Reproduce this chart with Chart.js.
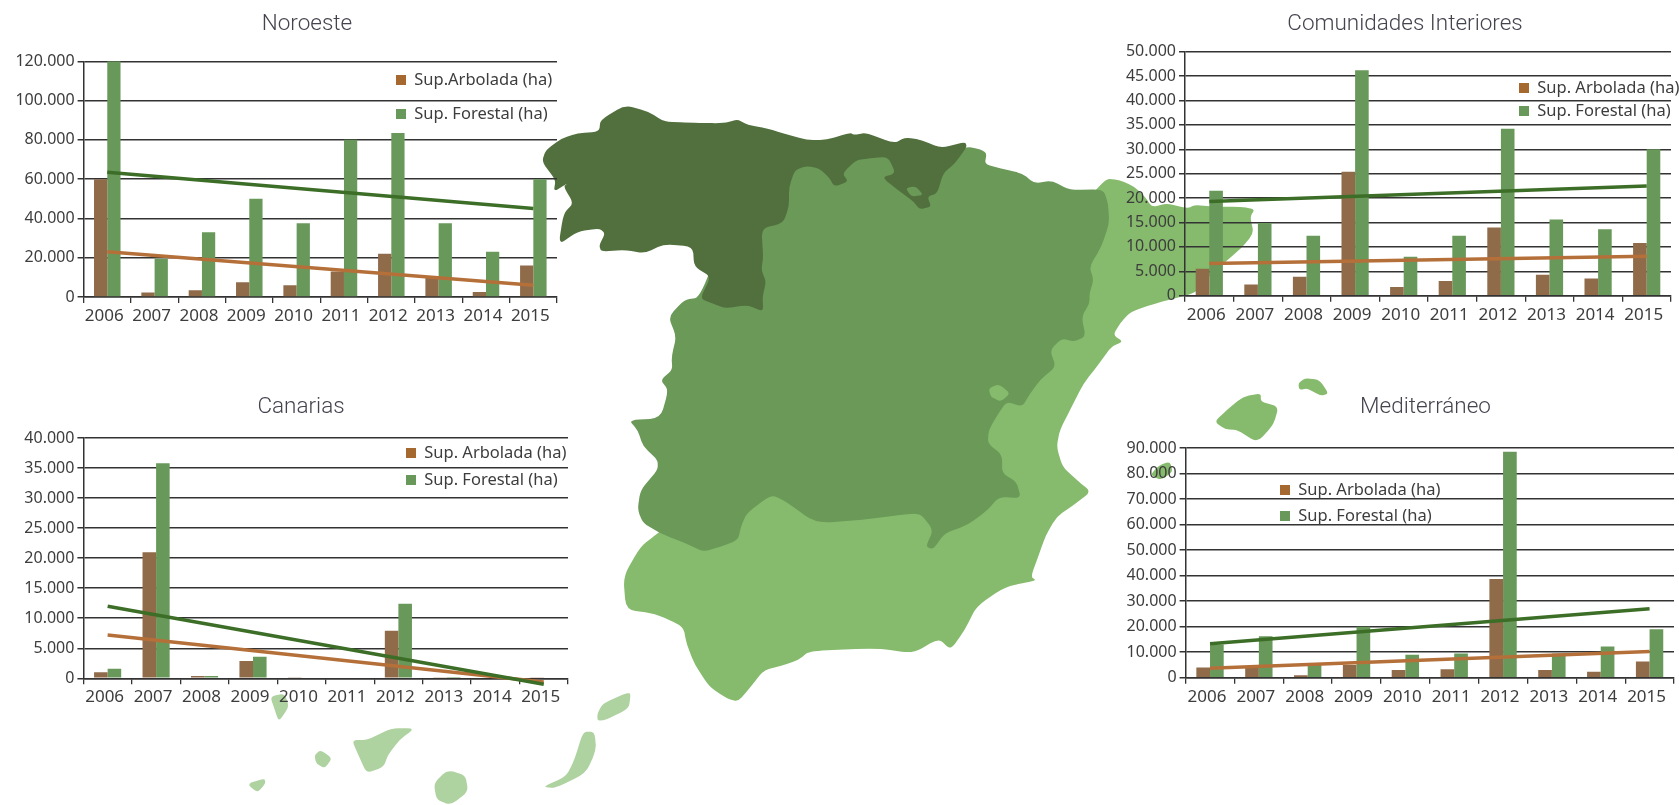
<!DOCTYPE html>
<html lang="es">
<head>
<meta charset="utf-8">
<title>Superficie arbolada y forestal por regiones</title>
<script src="https://cdn.jsdelivr.net/npm/chart.js@4/dist/chart.umd.min.js"></script>
<style>
    html, body { margin: 0; padding: 0; background: #fff; }
    #page { position: relative; width: 1679px; height: 805px; overflow: hidden; }
    #mapa { position: absolute; left: 0; top: 0; }
    canvas { position: absolute; }
</style>
</head>
<body>
<div id="page">
    <svg id="mapa" width="1679" height="805" viewBox="0 0 1679 805"></svg>
    <canvas id="noroeste"></canvas>
    <canvas id="canarias"></canvas>
    <canvas id="interiores"></canvas>
    <canvas id="mediterraneo"></canvas>
</div>
<script>
// Données
const anios = ['2006', '2007', '2008', '2009', '2010', '2011', '2012', '2013', '2014', '2015'];

const noroesteArbolada = [60000, 2300, 3500, 7500, 6000, 13000, 22000, 10000, 2500, 16000];
const noroesteForestal = [120000, 19500, 33000, 50000, 37500, 80000, 83500, 37500, 23000, 60000];
const noroesteTendArbolada = [23000, null, null, null, null, null, null, null, null, 6000];
const noroesteTendForestal = [63500, null, null, null, null, null, null, null, null, 45000];

const canariasArbolada = [1000, 21000, 400, 2900, 100, 0, 7900, 100, 0, 100];
const canariasForestal = [1600, 35800, 400, 3600, 150, 0, 12400, 200, 50, 150];
const canariasTendArbolada = [7200, null, null, null, null, null, null, null, null, -600];
const canariasTendForestal = [12000, null, null, null, null, null, null, null, null, -1000];

const interioresArbolada = [5500, 2300, 3900, 25400, 1800, 3000, 14000, 4300, 3500, 10800];
const interioresForestal = [21500, 14900, 12300, 46200, 8000, 12300, 34200, 15600, 13600, 30000];
const interioresTendArbolada = [6600, null, null, null, null, null, null, null, null, 8100];
const interioresTendForestal = [19300, null, null, null, null, null, null, null, null, 22500];

const mediterraneoArbolada = [4000, 4500, 1000, 5000, 3000, 3300, 38700, 3000, 2300, 6300];
const mediterraneoForestal = [13000, 16200, 5000, 20000, 9000, 9500, 88500, 9500, 12200, 19000];
const mediterraneoTendArbolada = [3700, null, null, null, null, null, null, null, null, 10300];
const mediterraneoTendForestal = [13300, null, null, null, null, null, null, null, null, 27000];

// Couleurs
const COLOR_BARRA_ARBOLADA = '#8f6b4a';
const COLOR_BARRA_FORESTAL = '#69995a';
const COLOR_CAJA_ARBOLADA = '#a5692f';
const COLOR_TEND_ARBOLADA = '#b5703a';
const COLOR_TEND_FORESTAL = '#3c6e27';
const COLOR_TEXTO = '#3d3d3d';
const COLOR_REJILLA = '#333333';
const FUENTE = '"Noto Sans", sans-serif';
const TAM_LEYENDA = 16.5;

const z3 = pts => pts.map(([x, y]) => [1120 + x / 2.805, y / 3]);
const z4 = pts => pts.map(([x, y]) => [1120 + x / 2.805, 380 + y / 3]);
const z5 = pts => pts.map(([x, y]) => [530 + x / 2.529, 90 + y / 3]);
const z6 = pts => pts.map(([x, y]) => [230 + x / 1.742, 430 + y / 3]);

const mapaBase = [
    ...z5([[1452, 265]]),
    ...z3([[0, 540], [40, 560], [70, 590], [90, 622], [130, 610], [190, 625], [210, 615], [260, 620], [340, 620], [378, 628], [365, 650], [375, 700], [340, 745], [290, 790], [230, 850], [210, 880], [100, 910], [30, 935], [0, 970]]),
    ...z5([[1475, 735], [1500, 755], [1470, 770], [1440, 820], [1400, 880], [1370, 950], [1340, 1020]]),
    ...z6([[1440, 50], [1450, 110], [1475, 150], [1500, 185], [1470, 225], [1440, 260], [1420, 320], [1410, 370], [1395, 440], [1405, 452], [1350, 470], [1300, 530], [1280, 600], [1255, 660], [1235, 625], [1190, 670], [1130, 655], [1010, 662], [990, 690], [960, 708], [930, 720], [905, 775], [885, 815], [865, 805], [835, 770], [810, 705], [795, 640], [790, 590], [740, 550], [690, 540], [685, 440], [715, 350], [745, 310], [900, 100], [1320, 0]]),
    ...z5([[1300, 500]])
];
const mapaCentro = z5([[1105, 170], [1140, 178], [1155, 190], [1150, 222], [1190, 235], [1245, 250], [1275, 280], [1320, 272], [1365, 300], [1450, 298], [1462, 340], [1465, 400], [1445, 470], [1415, 530], [1425, 570], [1415, 610], [1415, 640], [1395, 680], [1405, 740], [1375, 755], [1345, 745], [1315, 780], [1330, 830], [1290, 870], [1265, 910], [1245, 950], [1205, 935], [1185, 970], [1160, 1020]])
    .concat(z6([[1320, 40], [1345, 75], [1345, 130], [1370, 155], [1378, 205], [1340, 200], [1320, 240], [1285, 285], [1245, 310], [1225, 358], [1212, 350], [1225, 300], [1205, 255], [1190, 250], [1100, 270], [1020, 280], [965, 210], [942, 195], [900, 250], [890, 290], [885, 330], [855, 350], [825, 365], [800, 345], [750, 310], [720, 280], [710, 240], [715, 180], [745, 120], [745, 90], [720, 50], [710, 0]]))
    .concat(z5([[250, 990], [330, 985], [350, 900], [330, 870], [360, 840], [358, 800], [370, 740], [350, 680], [390, 630], [430, 622], [500, 400], [660, 230], [800, 200], [1000, 200]]));
const mapaNorte = z5([[30, 215], [40, 180], [80, 145], [120, 130], [175, 125], [178, 90], [240, 45], [300, 65], [340, 95], [400, 98], [490, 100], [525, 88], [550, 105], [600, 115], [640, 130], [700, 150], [750, 150], [810, 128], [820, 135], [850, 128], [920, 160], [950, 142], [990, 150], [1040, 175], [1100, 155], [1105, 170], [1075, 220], [1045, 250], [1030, 310], [1005, 320], [1015, 350], [985, 358], [970, 335], [930, 300], [890, 262], [925, 250], [905, 200], [860, 205], [825, 210], [790, 250], [805, 275], [770, 290], [755, 260], [730, 235], [700, 228], [670, 240], [655, 290], [655, 350], [640, 400], [585, 415], [590, 500], [585, 540], [597, 575], [588, 620], [590, 665], [550, 645], [495, 655], [460, 640], [430, 625], [458, 560], [415, 530], [412, 470], [340, 462], [290, 490], [240, 480], [180, 485], [175, 465], [190, 430], [175, 415], [120, 425], [72, 465], [85, 370], [110, 340], [85, 290], [95, 280], [60, 305], [65, 270]]);
const enclaveClaro = z5([[1160, 895], [1185, 882], [1215, 910], [1190, 935], [1165, 920]]);
const enclaveTrevino = z5([[950, 295], [975, 288], [995, 315], [965, 320]]);
const islasBaleares = [
    z4([[265, 125], [300, 90], [345, 50], [395, 40], [395, 65], [445, 80], [430, 135], [385, 188], [330, 150], [295, 148]]),
    z4([[500, 10], [520, -6], [560, 0], [585, 40], [565, 48], [525, 25], [503, 30]]),
    z4([[85, 285], [110, 255], [140, 245], [148, 275], [115, 300]])
];
const islasCanarias = [
    z6([[30, 1062], [60, 1045], [62, 1060], [48, 1088]]),
    z6([[70, 800], [95, 790], [103, 830], [85, 875], [78, 840]]),
    z6([[147, 975], [158, 960], [178, 985], [165, 1015], [150, 1000]]),
    z6([[212, 930], [240, 930], [280, 895], [322, 895], [295, 930], [275, 975], [268, 1010], [238, 1030], [225, 980]]),
    z6([[355, 1060], [378, 1020], [410, 1035], [415, 1085], [385, 1125], [360, 1110]]),
    z6([[545, 1070], [585, 1040], [600, 990], [615, 905], [635, 905], [638, 960], [620, 1030], [565, 1075]]),
    z6([[640, 850], [650, 820], [690, 790], [698, 790], [695, 835], [655, 870], [640, 872]])
];

function dibujarRegion(puntos, color) {
    // Coins légèrement arrondis, on garde le dessin de la côte
    const hacia = (a, b, f) => (a[0] + (b[0] - a[0]) * f).toFixed(1) + ' ' + (a[1] + (b[1] - a[1]) * f).toFixed(1);
    let d = '';
    puntos.forEach((p, i) => {
        const prev = puntos[(i - 1 + puntos.length) % puntos.length];
        const next = puntos[(i + 1) % puntos.length];
        d += (i === 0 ? 'M' : 'L') + hacia(p, prev, 0.33) + 'Q' + p[0].toFixed(1) + ' ' + p[1].toFixed(1) + ' ' + hacia(p, next, 0.33);
    });
    const path = document.createElementNS('http://www.w3.org/2000/svg', 'path');
    path.setAttribute('d', d + 'Z');
    path.setAttribute('fill', color);
    document.getElementById('mapa').appendChild(path);
}

dibujarRegion(mapaBase, '#86bb6d');
dibujarRegion(mapaCentro, '#6a9958');
dibujarRegion(mapaNorte, '#52703e');
dibujarRegion(enclaveClaro, '#86bb6d');
dibujarRegion(enclaveTrevino, '#6a9958');
islasBaleares.forEach(isla => dibujarRegion(isla, '#86bb6d'));
islasCanarias.forEach(isla => dibujarRegion(isla, '#aed2a0'));

// Place le titre et la légende aux endroits voulus une fois la mise en page faite
const colocarCajas = {
    id: 'colocarCajas',
    afterLayout(chart, args, opts) {
        const t = chart.titleBlock;
        t.left = opts.tituloX - 200;
        t.right = opts.tituloX + 200;
        const l = chart.legend;
        l.left = opts.leyendaX;
        l.right = opts.leyendaX + 200;
        l.top = opts.leyendaY;
        // assez haut pour que les deux lignes restent dans la même colonne
        l.bottom = opts.leyendaY + 300;
    }
};

function crearGrafico(id, cfg) {
    const ctx = document.getElementById(id);
    const { caja, plot } = cfg;
    ctx.width = caja.w;
    ctx.height = caja.h;
    ctx.style.left = caja.x + 'px';
    ctx.style.top = caja.y + 'px';

    const alturaTitulo = 22.5 * 1.2;
    const padTitulo = cfg.tituloY - caja.y - alturaTitulo / 2;
    // Le padding des labels sert aussi de marge à gauche et en haut de la légende
    const sep = cfg.pasoLeyenda - TAM_LEYENDA;

    return new Chart(ctx, {
        type: 'bar',
        data: {
            labels: anios,
            datasets: [
                { label: cfg.etiquetas[0], data: cfg.arbolada, backgroundColor: COLOR_BARRA_ARBOLADA, order: 2 },
                { label: cfg.etiquetas[1], data: cfg.forestal, backgroundColor: COLOR_BARRA_FORESTAL, order: 2 },
                { type: 'line', label: 'Tendencia arbolada', data: cfg.tendArbolada, borderColor: COLOR_TEND_ARBOLADA, borderWidth: 3.5, pointRadius: 0, spanGaps: true, clip: false, order: 1 },
                { type: 'line', label: 'Tendencia forestal', data: cfg.tendForestal, borderColor: COLOR_TEND_FORESTAL, borderWidth: 3.5, pointRadius: 0, spanGaps: true, clip: false, order: 0 }
            ]
        },
        options: {
            responsive: false,
            animation: false,
            datasets: { bar: { categoryPercentage: 0.56, barPercentage: 1 } },
            layout: { padding: { left: 0, top: 0, right: caja.x + caja.w - plot.right, bottom: 0 } },
            scales: {
                x: {
                    afterFit: s => { s.height = caja.y + caja.h - plot.bottom; },
                    grid: { drawOnChartArea: false, color: COLOR_REJILLA, lineWidth: 1.3, tickLength: 6 },
                    border: { color: COLOR_REJILLA, width: 1.5 },
                    ticks: { color: COLOR_TEXTO, font: { family: FUENTE, size: 17 }, padding: 3, labelOffset: -3, maxRotation: 0, autoSkip: false }
                },
                y: {
                    min: 0,
                    max: cfg.max,
                    afterFit: s => { s.width = plot.left - caja.x; },
                    grid: { color: COLOR_REJILLA, lineWidth: 1.5, tickLength: 6 },
                    border: { color: COLOR_REJILLA, width: 1.5 },
                    ticks: {
                        stepSize: cfg.paso,
                        color: COLOR_TEXTO,
                        font: { family: FUENTE, size: 16 },
                        padding: 3,
                        callback: v => String(v).replace(/\B(?=(\d{3})+$)/g, '.')
                    }
                }
            },
            plugins: {
                title: {
                    display: true,
                    text: cfg.titulo,
                    color: '#44444f',
                    font: { family: 'Roboto, sans-serif', size: 22.5, weight: 300 },
                    padding: { top: padTitulo, bottom: plot.top - caja.y - alturaTitulo - padTitulo }
                },
                legend: {
                    position: 'chartArea',
                    align: 'start',
                    labels: {
                        boxWidth: 10,
                        boxHeight: 10,
                        padding: sep,
                        color: COLOR_TEXTO,
                        font: { family: FUENTE, size: TAM_LEYENDA },
                        generateLabels: () => [
                            { text: cfg.etiquetas[0], fillStyle: COLOR_CAJA_ARBOLADA, strokeStyle: COLOR_CAJA_ARBOLADA, lineWidth: 0, fontColor: COLOR_TEXTO },
                            { text: cfg.etiquetas[1], fillStyle: COLOR_BARRA_FORESTAL, strokeStyle: COLOR_BARRA_FORESTAL, lineWidth: 0, fontColor: COLOR_TEXTO }
                        ]
                    }
                },
                tooltip: { enabled: false },
                colocarCajas: {
                    tituloX: cfg.tituloX - caja.x,
                    leyendaX: cfg.leyendaX - caja.x - sep,
                    leyendaY: cfg.leyendaY - caja.y - sep - TAM_LEYENDA / 2
                }
            }
        },
        plugins: [colocarCajas]
    });
}

document.addEventListener('DOMContentLoaded', function() {
    crearGrafico('noroeste', {
        titulo: 'Noroeste', tituloX: 307, tituloY: 24,
        caja: { x: 0, y: 0, w: 614, h: 345 },
        plot: { left: 83.6, right: 557, top: 61.3, bottom: 297 },
        max: 120000, paso: 20000,
        etiquetas: ['Sup.Arbolada (ha)', 'Sup. Forestal (ha)'],
        leyendaX: 396, leyendaY: 80, pasoLeyenda: 34,
        arbolada: noroesteArbolada, forestal: noroesteForestal,
        tendArbolada: noroesteTendArbolada, tendForestal: noroesteTendForestal
    });
    crearGrafico('canarias', {
        titulo: 'Canarias', tituloX: 301, tituloY: 407,
        caja: { x: 0, y: 385, w: 602, h: 340 },
        plot: { left: 83.4, right: 568, top: 438, bottom: 678.3 },
        max: 40000, paso: 5000,
        etiquetas: ['Sup. Arbolada (ha)', 'Sup. Forestal (ha)'],
        leyendaX: 406, leyendaY: 453, pasoLeyenda: 27,
        arbolada: canariasArbolada, forestal: canariasForestal,
        tendArbolada: canariasTendArbolada, tendForestal: canariasTendForestal
    });
    crearGrafico('interiores', {
        titulo: 'Comunidades Interiores', tituloX: 1405, tituloY: 24,
        caja: { x: 1110, y: 0, w: 569, h: 340 },
        plot: { left: 1185, right: 1671, top: 51.7, bottom: 295.7 },
        max: 50000, paso: 5000,
        etiquetas: ['Sup. Arbolada (ha)', 'Sup. Forestal (ha)'],
        leyendaX: 1519, leyendaY: 88, pasoLeyenda: 23,
        arbolada: interioresArbolada, forestal: interioresForestal,
        tendArbolada: interioresTendArbolada, tendForestal: interioresTendForestal
    });
    crearGrafico('mediterraneo', {
        titulo: 'Mediterráneo', tituloX: 1425.5, tituloY: 407,
        caja: { x: 1110, y: 385, w: 569, h: 340 },
        plot: { left: 1185.6, right: 1674, top: 448, bottom: 677.7 },
        max: 90000, paso: 10000,
        etiquetas: ['Sup. Arbolada (ha)', 'Sup. Forestal (ha)'],
        leyendaX: 1280, leyendaY: 490, pasoLeyenda: 26,
        arbolada: mediterraneoArbolada, forestal: mediterraneoForestal,
        tendArbolada: mediterraneoTendArbolada, tendForestal: mediterraneoTendForestal
    });
});
</script>
</body>
</html>
